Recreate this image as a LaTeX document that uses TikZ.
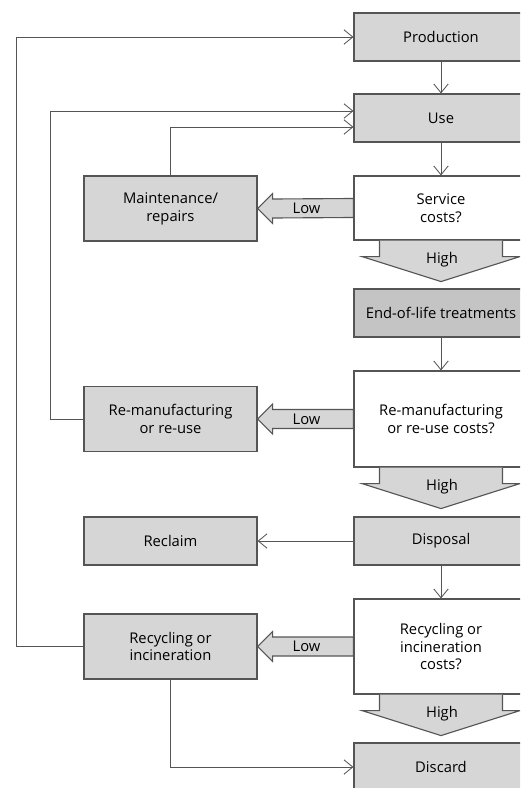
\documentclass[tikz,border=0pt]{standalone}
\usepackage{fontspec}
\setmainfont{Open Sans}
\usetikzlibrary{arrows.meta,calc}
\definecolor{boxfill}{HTML}{D6D6D6}
\definecolor{darkfill}{HTML}{C4C4C4}
\definecolor{edge}{HTML}{555555}

\tikzset{
  box/.style={draw=edge, line width=0.8pt, fill=boxfill, align=center,
    minimum width=4.35cm, minimum height=1.2cm, inner sep=0pt,
    font=\fontsize{10.5}{12.6}\selectfont},
  leftbox/.style={box, minimum width=4.325cm, minimum height=1.625cm},
  question/.style={box, fill=white},
  flow/.style={draw=edge, line width=0.6pt, -{Straight Barb[length=2.2mm,width=3.6mm]}},
  block/.style={draw=edge, line width=0.8pt, fill=boxfill},
  lbl/.style={font=\fontsize{10.5}{12.6}\selectfont, inner sep=0pt}
}

% Low block arrow from question box to left box
\newcommand{\lowarrow}[3]{%
  \draw[block] ($(#1.west)+(0,-9.5)$) -- ($(#2.east)+(15,-9.5)$)
    -- ($(#2.east)+(15,-15)$) -- (#2.east) -- ($(#2.east)+(15,15)$)
    -- ($(#2.east)+(15,9.5)$) -- ($(#1.west)+(0,9.5)$) -- cycle;
  \node[lbl] (#3) at ($(#1.west)!0.5!(#2.east)+(1,0)$) {Low};}
% High block arrow below a question box
\newcommand{\higharrow}[2]{%
  \draw[block] ($(#1.south)+(-61.5,0)$) -- ($(#1.south)+(-61.5,16)$)
    -- ($(#1.south)+(-79,16)$) -- ($(#1.south)+(0,41)$) -- ($(#1.south)+(79,16)$)
    -- ($(#1.south)+(61.5,16)$) -- ($(#1.south)+(61.5,0)$);
  \node[lbl] (#2) at ($(#1.south)+(1,19)$) {High};}

\begin{document}
\begin{tikzpicture}[x=0.025cm, y=-0.025cm]
  \useasboundingbox (0,0) rectangle (520,788);
  \clip (0,0) rectangle (520,788);

  % right column
  \node[box] (prod) at (441,37) {Production};
  \node[box] (use) at (441,118) {Use};
  \node[question, minimum height=1.6cm] (svc) at (441,208) {Service\\costs?};
  \node[box, fill=darkfill] (eol) at (441,313) {End-of-life treatments};
  \node[question, minimum height=2.4cm] (rmq) at (441,419) {Re-manufacturing\\or re-use costs?};
  \node[box] (disp) at (441,541) {Disposal};
  \node[question, minimum height=2.375cm] (rcq) at (441,646.5) {Recycling or\\incineration\\costs?};
  \node[box] (disc) at (441,767) {Discard};

  % left column
  \node[leftbox] (maint) at (170.5,208.5) {Maintenance/\\repairs};
  \node[leftbox] (reman) at (170.5,419) {Re-manufacturing\\or re-use};
  \node[leftbox, minimum height=1.2cm] (reclaim) at (170.5,541) {Reclaim};
  \node[leftbox] (recyc) at (170.5,646.5) {Recycling or\\incineration};

  % decisions
  \lowarrow{svc}{maint}{low1}
  \lowarrow{rmq}{reman}{low2}
  \lowarrow{rcq}{recyc}{low3}
  \higharrow{svc}{high1}
  \higharrow{rmq}{high2}
  \higharrow{rcq}{high3}

  % main flow
  \draw[flow] (prod) -- (use);
  \draw[flow] (use) -- (svc);
  \draw[flow] (eol) -- (rmq);
  \draw[flow] (disp) -- (rcq);
  \draw[flow] (disp) -- (reclaim);

  % feedback loops
  \draw[flow] (recyc.west) -- ++(-67,0) |- (prod.west);
  \draw[flow] (reman.west) -- ++(-33,0) |- ($(use.west)+(0,-7)$);
  \draw[flow] (maint.north) |- ($(use.west)+(0,9)$);
  \draw[flow] (recyc.south) |- (disc.west);
\end{tikzpicture}
\end{document}
